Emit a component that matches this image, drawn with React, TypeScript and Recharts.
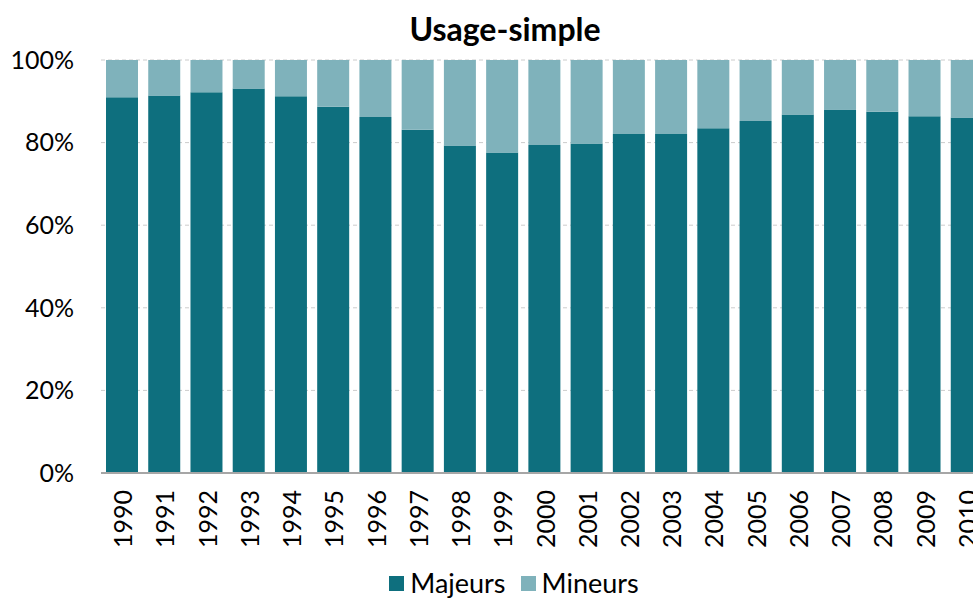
import { BarChart, Bar, XAxis, YAxis, CartesianGrid, Legend } from "recharts";

const years = [
  "1990", "1991", "1992", "1993", "1994", "1995", "1996", "1997", "1998", "1999", "2000",
  "2001", "2002", "2003", "2004", "2005", "2006", "2007", "2008", "2009", "2010",
];
const majeurs = [
  91.0, 91.4, 92.2, 93.1, 91.2, 88.7, 86.2, 83.1, 79.3, 77.6, 79.4,
  79.8, 82.1, 82.1, 83.5, 85.2, 86.8, 88.0, 87.5, 86.4, 86.1,
];
const mineurs = [
  9.0, 8.6, 7.8, 6.9, 8.8, 11.3, 13.8, 16.9, 20.7, 22.4, 20.6,
  20.2, 17.9, 17.9, 16.5, 14.8, 13.2, 12.0, 12.5, 13.6, 13.9,
];
const yTicks = [0, 20, 40, 60, 80, 100];

const DARK = "#0e6f7e";
const LIGHT = "#7fb2bb";
const FONT = "Lato, 'Open Sans', sans-serif";

const data = years.map((year, i) => ({ year, majeurs: majeurs[i], mineurs: mineurs[i] }));

// year labels standing vertically under each bar
function YearTick({ x, y, payload }: any) {
  return (
    <text
      x={x}
      y={y}
      transform={`rotate(-90, ${x}, ${y})`}
      textAnchor="end"
      dominantBaseline="central"
      fontSize={25}
      fontFamily={FONT}
      fill="#000"
    >
      {payload.value}
    </text>
  );
}

function LegendBox() {
  const items = [
    { label: "Majeurs", color: DARK },
    { label: "Mineurs", color: LIGHT },
  ];
  return (
    <div
      style={{
        display: "flex",
        justifyContent: "center",
        gap: 15,
        fontFamily: FONT,
        fontSize: 27,
        lineHeight: "30px",
        paddingLeft: 40,
      }}
    >
      {items.map((it) => (
        <span key={it.label} style={{ display: "flex", alignItems: "center" }}>
          <span
            style={{ width: 15, height: 15, background: it.color, marginRight: 6, display: "inline-block" }}
          />
          {it.label}
        </span>
      ))}
    </div>
  );
}

export default function App() {
  return (
    <div
      style={{
        position: "fixed",
        left: 0,
        top: 0,
        width: 973,
        height: 598,
        overflow: "hidden",
        background: "#fff",
      }}
    >
      <div
        style={{
          position: "absolute",
          top: 9,
          left: 0,
          width: 1010,
          textAlign: "center",
          fontFamily: FONT,
          fontWeight: 700,
          fontSize: 32,
          zIndex: 2,
        }}
      >
        Usage-simple
      </div>
      <BarChart
        width={1010}
        height={598}
        data={data}
        margin={{ top: 60, right: 22, left: 0, bottom: 0 }}
        barSize={32}
      >
        <CartesianGrid vertical={false} strokeDasharray="4 3" stroke="#cccccc" />
        <YAxis
          width={101}
          domain={[0, 100]}
          ticks={yTicks}
          tickFormatter={(v: number) => `${v}%`}
          axisLine={false}
          tickLine={false}
          tickMargin={21}
          tick={{ fontSize: 25, fontFamily: FONT, fill: "#000" }}
          allowDataOverflow
        />
        <XAxis
          dataKey="year"
          height={95}
          interval={0}
          axisLine={{ stroke: "#a6a6a6", strokeWidth: 2 }}
          tickLine={false}
          tickMargin={11}
          tick={<YearTick />}
        />
        <Legend verticalAlign="bottom" height={30} content={<LegendBox />} />
        <Bar dataKey="majeurs" name="Majeurs" stackId="a" fill={DARK} isAnimationActive={false} />
        <Bar dataKey="mineurs" name="Mineurs" stackId="a" fill={LIGHT} isAnimationActive={false} />
      </BarChart>
    </div>
  );
}
